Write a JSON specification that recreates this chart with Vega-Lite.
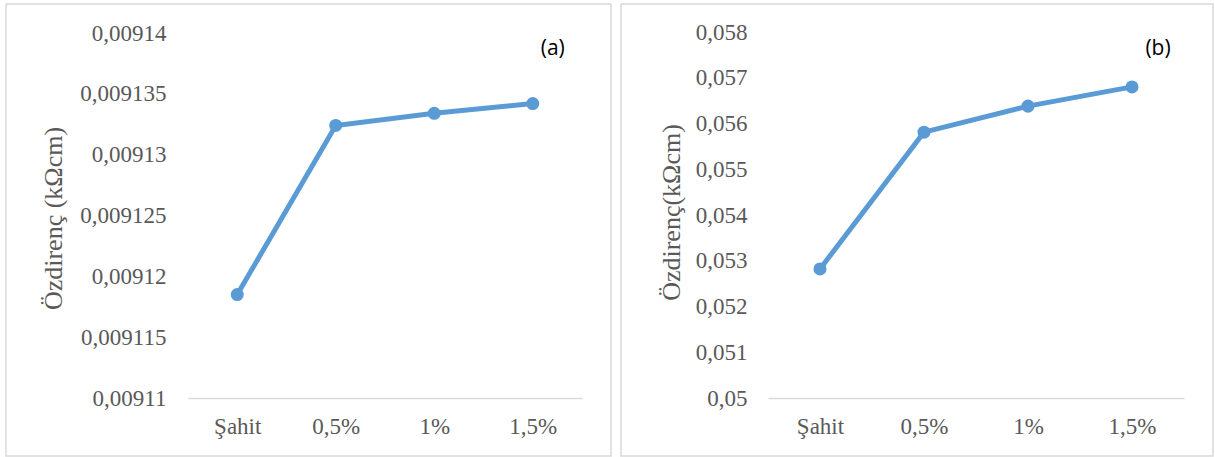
{
  "$schema": "https://vega.github.io/schema/vega-lite/v6.json",
  "padding": {"left": 5, "top": 3, "right": 0, "bottom": 0},
  "spacing": 10,
  "bounds": "flush",
  "background": "white",
  "config": {
    "view": {"stroke": "#d9d9d9", "strokeWidth": 1.5},
    "font": "Liberation Serif, DejaVu Serif, serif"
  },
  "hconcat": [
    {
      "width": 605,
      "height": 452,
      "data": {"values": [
        {"k": "Şahit", "v": 0.0091185},
        {"k": "0,5%", "v": 0.0091324},
        {"k": "1%", "v": 0.0091334},
        {"k": "1,5%", "v": 0.0091342}
      ]},
      "encoding": {
        "x": {"field": "k", "type": "ordinal",
          "scale": {"type": "point", "domain": ["Şahit", "0,5%", "1%", "1,5%"], "range": [182, 576], "padding": 0.5},
          "axis": {"orient": "bottom", "offset": -58, "title": null, "labelAngle": 0, "domainColor": "#d9d9d9", "domainWidth": 1.5, "ticks": false, "tickSize": 0, "labelPadding": 17, "labelFont": "Liberation Serif, DejaVu Serif, serif", "labelFontSize": 23, "labelColor": "#595959", "grid": false}},
        "y": {"field": "v", "type": "quantitative",
          "scale": {"domain": [0.00911, 0.00914], "range": [394, 29], "zero": false, "nice": false},
          "axis": {"orient": "left", "offset": -160, "domain": false, "ticks": false, "tickSize": 0, "grid": false, "labelPadding": 0, "labelOverlap": false, "labelBound": false,
            "values": [0.00911, 0.009115, 0.00912, 0.009125, 0.00913, 0.009135, 0.00914],
            "labelExpr": "replace(datum.value + '', '.', ',')",
            "labelFont": "Liberation Serif, DejaVu Serif, serif", "labelFontSize": 23, "labelColor": "#595959",
            "title": "Özdirenç (kΩcm)", "titleFont": "Liberation Serif, DejaVu Serif, serif", "titleFontSize": 26, "titleColor": "#595959", "titleFontWeight": "normal",
            "titleX": -100, "titleY": 214, "titleAngle": -90, "titleBaseline": "bottom", "titleAlign": "center"}}
      },
      "layer": [
        {"mark": {"type": "line", "color": "#5b9bd5", "strokeWidth": 5}},
        {"mark": {"type": "point", "filled": true, "color": "#5b9bd5", "size": 170, "opacity": 1}},
        {"data": {"values": [{"k": "1,5%", "v": 0.0091387, "t": "(a)"}]},
         "mark": {"type": "text", "font": "Open Sans", "fontSize": 21, "dx": 20, "color": "black", "align": "center", "baseline": "middle"},
         "encoding": {"text": {"field": "t"}}}
      ]
    },
    {
      "width": 592,
      "height": 452,
      "data": {"values": [
        {"k": "Şahit", "v": 0.05282},
        {"k": "0,5%", "v": 0.05581},
        {"k": "1%", "v": 0.05638},
        {"k": "1,5%", "v": 0.0568}
      ]},
      "encoding": {
        "x": {"field": "k", "type": "ordinal",
          "scale": {"type": "point", "domain": ["Şahit", "0,5%", "1%", "1,5%"], "range": [147, 563], "padding": 0.5},
          "axis": {"orient": "bottom", "offset": -58, "title": null, "labelAngle": 0, "domainColor": "#d9d9d9", "domainWidth": 1.5, "ticks": false, "tickSize": 0, "labelPadding": 17, "labelFont": "Liberation Serif, DejaVu Serif, serif", "labelFontSize": 23, "labelColor": "#595959", "grid": false}},
        "y": {"field": "v", "type": "quantitative",
          "scale": {"domain": [0.05, 0.058], "range": [394, 28], "zero": false, "nice": false},
          "axis": {"orient": "left", "offset": -126, "domain": false, "ticks": false, "tickSize": 0, "grid": false, "labelPadding": 0, "labelOverlap": false, "labelBound": false,
            "values": [0.05, 0.051, 0.052, 0.053, 0.054, 0.055, 0.056, 0.057, 0.058],
            "labelExpr": "replace(datum.value + '', '.', ',')",
            "labelFont": "Liberation Serif, DejaVu Serif, serif", "labelFontSize": 23, "labelColor": "#595959",
            "title": "Özdirenç(kΩcm)", "titleFont": "Liberation Serif, DejaVu Serif, serif", "titleFontSize": 26, "titleColor": "#595959", "titleFontWeight": "normal",
            "titleX": -63, "titleY": 208, "titleAngle": -90, "titleBaseline": "bottom", "titleAlign": "center"}}
      },
      "layer": [
        {"mark": {"type": "line", "color": "#5b9bd5", "strokeWidth": 5}},
        {"mark": {"type": "point", "filled": true, "color": "#5b9bd5", "size": 170, "opacity": 1}},
        {"data": {"values": [{"k": "1,5%", "v": 0.057628, "t": "(b)"}]},
         "mark": {"type": "text", "font": "Open Sans", "fontSize": 21, "dx": 26, "color": "black", "align": "center", "baseline": "middle"},
         "encoding": {"text": {"field": "t"}}}
      ]
    }
  ]
}
